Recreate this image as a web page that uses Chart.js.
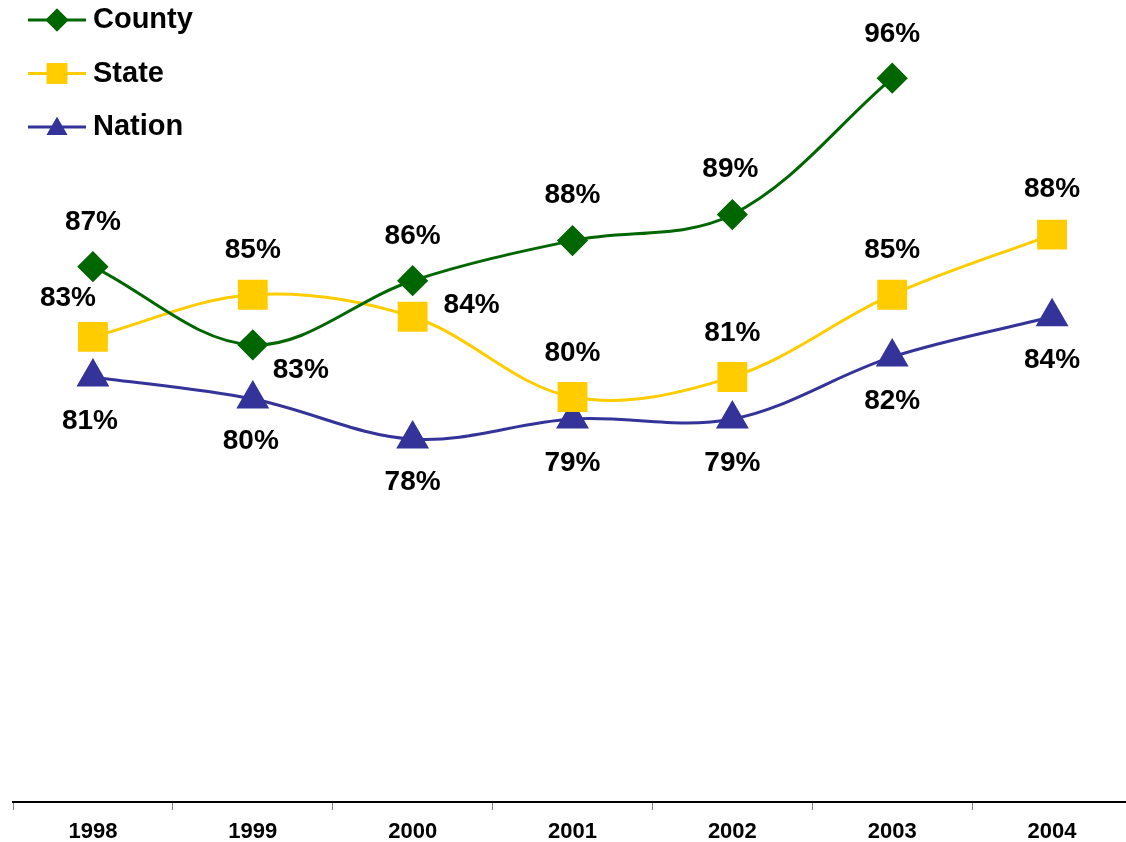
<!DOCTYPE html>
<html>
<head>
<meta charset="utf-8">
<script src="https://cdn.jsdelivr.net/npm/chart.js@4.4.1/dist/chart.umd.min.js"></script>
<style>
  html, body { margin: 0; padding: 0; background: #fff; overflow: hidden; }
  #wrap { width: 1132px; height: 842px; }
</style>
</head>
<body>
<div id="wrap"><canvas id="trendChart" width="1132" height="842"></canvas></div>
<script>
const years = ['1998', '1999', '2000', '2001', '2002', '2003', '2004'];
const county = [86.7, 82.8, 86.0, 88.0, 89.3, 96.1, null];
const state = [83.2, 85.3, 84.2, 80.2, 81.2, 85.3, 88.3];
const nation = [81.2, 80.1, 78.1, 79.1, 79.1, 82.2, 84.2];

// where each value label sits relative to its point [dx, dy]
const countyLabelPos = [[0, -44], [48, 25], [0, -44], [0, -45], [-2, -45], [0, -44], null];
const stateLabelPos = [[-25, -39], [0, -44], [59, -12], [0, -44], [0, -44], [0, -44], [0, -45]];
const nationLabelPos = [[-3, 44], [-2, 42], [0, 43], [0, 44], [0, 44], [0, 44], [0, 43]];

const FONT = "'Liberation Sans', Arial, sans-serif";

// value labels next to each point
const valueLabels = {
  id: 'valueLabels',
  afterDatasetsDraw(chart) {
    const ctx = chart.ctx;
    ctx.save();
    ctx.font = 'bold 28px ' + FONT;
    ctx.fillStyle = '#000';
    ctx.textAlign = 'center';
    ctx.textBaseline = 'middle';
    chart.data.datasets.forEach((ds, i) => {
      const meta = chart.getDatasetMeta(i);
      meta.data.forEach((pt, j) => {
        const v = ds.data[j];
        const off = ds.labelPos[j];
        if (v == null || !off) return;
        ctx.fillText(Math.round(v) + '%', pt.x + off[0], pt.y + off[1]);
      });
    });
    ctx.restore();
  }
};

// legend in the top left corner: line + marker + name
const cornerLegend = {
  id: 'cornerLegend',
  afterDraw(chart) {
    const ctx = chart.ctx;
    ctx.save();
    chart.data.datasets.forEach((ds, i) => {
      const y = 20 + i * 53.5;
      ctx.strokeStyle = ds.borderColor;
      ctx.lineWidth = 3;
      ctx.beginPath();
      ctx.moveTo(28, y);
      ctx.lineTo(86, y);
      ctx.stroke();
      ctx.fillStyle = ds.backgroundColor;
      Chart.helpers.drawPoint(ctx, {
        pointStyle: ds.pointStyle,
        radius: ds.legendRadius,
        borderWidth: 0,
        rotation: 0
      }, 57, y + (ds.pointStyle === 'triangle' ? 2 : 0));
      ctx.fill();
      ctx.fillStyle = '#000';
      ctx.font = 'bold 29px ' + FONT;
      ctx.textAlign = 'left';
      ctx.textBaseline = 'middle';
      ctx.fillText(ds.label, 93, y);
    });
    ctx.restore();
  }
};

const ctx = document.getElementById('trendChart').getContext('2d');
const trendChart = new Chart(ctx, {
  type: 'line',
  data: {
    labels: years,
    datasets: [
      {
        label: 'County',
        data: county,
        labelPos: countyLabelPos,
        borderColor: '#006600',
        backgroundColor: '#006600',
        pointStyle: 'rectRot',
        pointRadius: 13.5,
        legendRadius: 11.5,
        borderWidth: 3
      },
      {
        label: 'State',
        data: state,
        labelPos: stateLabelPos,
        borderColor: '#FFCC00',
        backgroundColor: '#FFCC00',
        pointStyle: 'rect',
        pointRadius: 19,
        legendRadius: 14.5,
        borderWidth: 3
      },
      {
        label: 'Nation',
        data: nation,
        labelPos: nationLabelPos,
        borderColor: '#333399',
        backgroundColor: '#333399',
        pointStyle: 'triangle',
        pointRadius: 16,
        legendRadius: 12,
        borderWidth: 3
      }
    ]
  },
  options: {
    responsive: false,
    animation: false,
    clip: false,
    layout: { autoPadding: false, padding: { left: 13, right: 0, top: 0, bottom: 0 } },
    elements: {
      line: { tension: 0.35 },
      point: { borderWidth: 0, hoverRadius: 0 }
    },
    scales: {
      x: {
        offset: true,
        afterFit(scale) {
          scale.paddingLeft = 0;
          scale.paddingRight = 0;
          scale.height = 40;
        },
        grid: {
          offset: true,
          drawOnChartArea: false,
          drawTicks: true,
          tickLength: 8,
          color: '#808080'
        },
        border: { color: '#000', width: 2 },
        ticks: {
          color: '#000',
          padding: 11,
          font: { family: FONT, size: 22, weight: 'bold', lineHeight: 1 }
        }
      },
      y: {
        display: false,
        min: 60,
        max: 100
      }
    },
    plugins: {
      legend: { display: false },
      tooltip: { enabled: false }
    }
  },
  plugins: [valueLabels, cornerLegend]
});
</script>
</body>
</html>
